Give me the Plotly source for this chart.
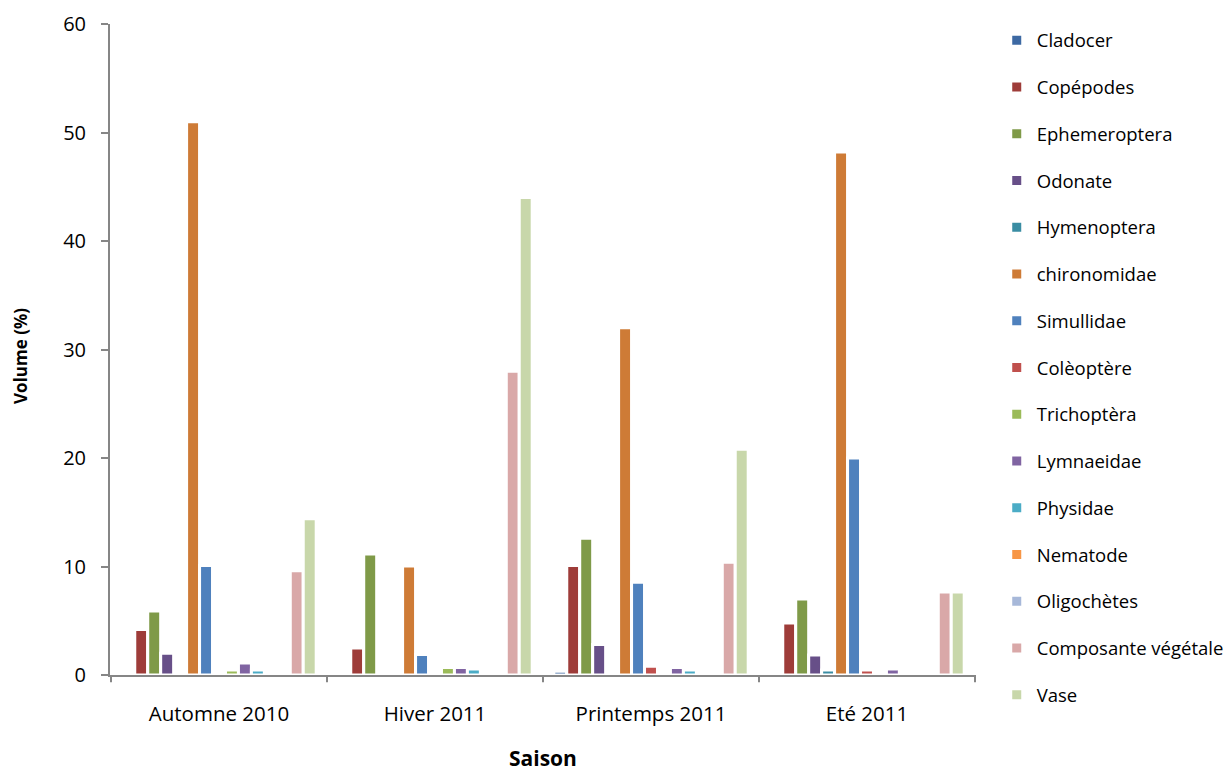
import plotly.graph_objects as go

# Seasons along the x axis
seasons = ["Automne 2010", "Hiver 2011", "Printemps 2011", "Eté 2011"]

# Diet items (one series each), values are volume % per season
cladocer = [0, 0, 0.35, 0]
copepodes = [4.2, 2.5, 10.1, 4.8]
ephemeroptera = [5.9, 11.15, 12.6, 7.0]
odonate = [2.0, 0, 2.8, 1.85]
hymenoptera = [0, 0, 0, 0.45]
chironomidae = [51.0, 10.05, 32.0, 48.2]
simullidae = [10.1, 1.9, 8.55, 20.0]
coleoptere = [0, 0, 0.8, 0.45]
trichoptera = [0.45, 0.7, 0, 0]
lymnaeidae = [1.1, 0.7, 0.7, 0.55]
physidae = [0.45, 0.55, 0.45, 0.25]
nematode = [0, 0, 0, 0]
oligochetes = [0, 0, 0, 0]
composante_vegetale = [9.6, 28.0, 10.4, 7.65]
vase = [14.4, 44.0, 20.8, 7.65]

series = [
    ("Cladocer", cladocer, "#3D69A3"),
    ("Copépodes", copepodes, "#9E3C39"),
    ("Ephemeroptera", ephemeroptera, "#7F9A48"),
    ("Odonate", odonate, "#674F88"),
    ("Hymenoptera", hymenoptera, "#3A8DA3"),
    ("chironomidae", chironomidae, "#CE7B36"),
    ("Simullidae", simullidae, "#4F81BD"),
    ("Colèoptère", coleoptere, "#C0504D"),
    ("Trichoptèra", trichoptera, "#9BBB59"),
    ("Lymnaeidae", lymnaeidae, "#8064A2"),
    ("Physidae", physidae, "#4BACC6"),
    ("Nematode", nematode, "#F79646"),
    ("Oligochètes", oligochetes, "#A7B8D9"),
    ("Composante végétale", composante_vegetale, "#D9A8A8"),
    ("Vase", vase, "#C8D7AA"),
]

FONT = "Open Sans, Carlito, Calibri, sans-serif"

fig = go.Figure()
for i, (name, vals, color) in enumerate(series):
    fig.add_trace(go.Bar(
        name=name,
        x=seasons,
        y=vals,
        marker=dict(color=color, line=dict(color="white", width=3)),
        legendgroup=f"g{i}",
    ))

fig.update_layout(
    width=1226,
    height=774,
    barmode="group",
    bargap=0.1,
    bargroupgap=0,
    plot_bgcolor="white",
    paper_bgcolor="white",
    font=dict(family=FONT, size=18, color="black"),
    margin=dict(l=110, r=250, t=24, b=99, autoexpand=False),
    showlegend=True,
    legend=dict(
        xref="container", yref="container",
        x=0.813, xanchor="left",
        y=0.972, yanchor="top",
        traceorder="grouped",
        tracegroupgap=19.7,
        font=dict(family=FONT, size=18.5, color="black"),
        itemwidth=30,
        maxheight=1.0,
        bgcolor="rgba(0,0,0,0)",
    ),
    xaxis=dict(
        showline=True, linecolor="#868686", linewidth=2,
        ticks="outside", ticklen=0,
        ticklabelstandoff=19,
        tickfont=dict(family=FONT, size=20.5),
        showgrid=False,
        automargin=False,
    ),
    yaxis=dict(
        range=[0, 60],
        dtick=10,
        showline=True, linecolor="#868686", linewidth=2,
        ticks="outside", ticklen=7, tickcolor="#868686", tickwidth=2,
        ticklabelstandoff=11,
        tickfont=dict(family=FONT, size=20),
        showgrid=False,
        zeroline=False,
        automargin=False,
    ),
)

# Axis titles
fig.add_annotation(
    text="<b>Saison</b>", xref="paper", yref="paper",
    x=0.5, y=-0.1275, xanchor="center", yanchor="middle",
    showarrow=False, font=dict(family=FONT, size=21, color="black"),
)
fig.add_annotation(
    text="<b>Volume (%)</b>", xref="paper", yref="paper",
    x=-0.104, y=0.49, xanchor="center", yanchor="middle",
    textangle=-90, showarrow=False,
    font=dict(family=FONT, size=17, color="black"),
)

# Category divider ticks below the x axis
for k in range(len(seasons) + 1):
    fig.add_shape(
        type="line", xref="x", yref="paper",
        x0=k - 0.5, x1=k - 0.5, y0=0, y1=-0.011,
        line=dict(color="#868686", width=2),
    )

fig.write_html("out.html")
